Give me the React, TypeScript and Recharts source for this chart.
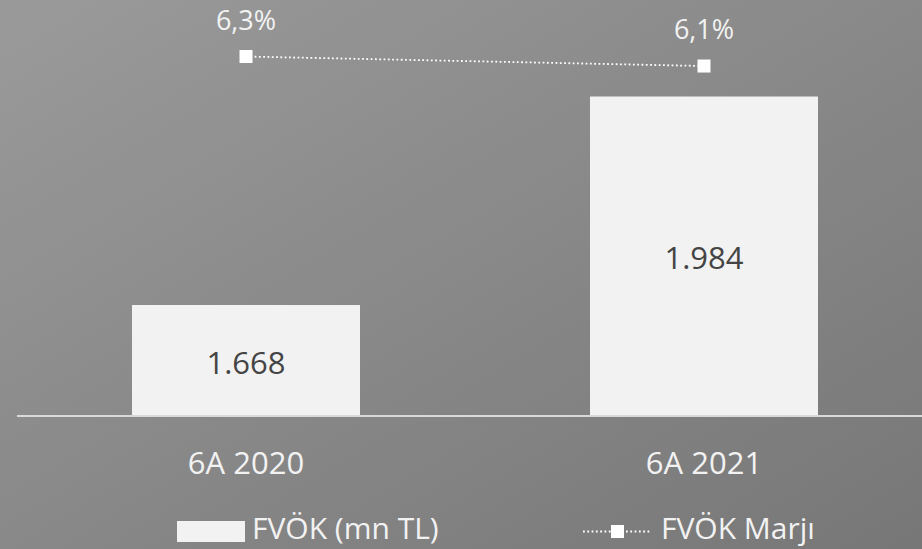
import React from 'react';
import { ComposedChart, Bar, Line, XAxis, YAxis, LabelList, Legend } from 'recharts';

const categories = ['6A 2020', '6A 2021'];
const fvokValues = [1668, 1984];
const marginValues = [6.3, 6.1];
const seriesNames = ['FVÖK (mn TL)', 'FVÖK Marjı'];

const data = categories.map((name, i) => ({ name, fvok: fvokValues[i], marj: marginValues[i] }));

const FONT = "'Open Sans', sans-serif";

const fmtThousands = (v: number) => String(v).replace(/\B(?=(\d{3})+(?!\d))/g, '.');
const fmtPct = (v: number) => v.toFixed(1).replace('.', ',') + '%';

const BarValueLabel = (props: any) => {
  const { x, y, width, height, value } = props;
  return (
    <text
      x={Number(x) + Number(width) / 2}
      y={Number(y) + Number(height) / 2 + 13}
      textAnchor="middle"
      fill="#444444"
      fontSize={31}
      fontFamily={FONT}
    >
      {fmtThousands(Number(value))}
    </text>
  );
};

const LineValueLabel = (props: any) => {
  const { x, y, value } = props;
  return (
    <text x={Number(x)} y={Number(y) - 27} textAnchor="middle" fill="#f2f2f2" fontSize={27} fontFamily={FONT}>
      {fmtPct(Number(value))}
    </text>
  );
};

const SquareDot = (props: any) => {
  const { cx, cy, index } = props;
  return <rect key={`dot-${index}`} x={cx - 6.5} y={cy - 6.5} width={13} height={13} fill="#ffffff" />;
};

const XTick = (props: any) => {
  const { x, y, payload } = props;
  return (
    <text x={x} y={Number(y) + 58} textAnchor="middle" fill="#f2f2f2" fontSize={31} fontFamily={FONT}>
      {payload.value}
    </text>
  );
};

const LegendContent = () => (
  <svg width={922} height={41} style={{ display: 'block' }}>
    <rect x={177} y={13} width={68} height={21} fill="#f2f2f2" />
    <text x={252} y={31} fill="#f2f2f2" fontSize={30} fontFamily={FONT}>
      {seriesNames[0]}
    </text>
    <line x1={583} y1={23.5} x2={651} y2={23.5} stroke="#ffffff" strokeWidth={1.8} strokeDasharray="1.8 2.5" />
    <rect x={611} y={17} width={13} height={13} fill="#ffffff" />
    <text x={661} y={31} fill="#f2f2f2" fontSize={30} fontFamily={FONT}>
      {seriesNames[1]}
    </text>
  </svg>
);

export default function App() {
  return (
    <div
      style={{
        position: 'absolute',
        left: 0,
        top: 0,
        width: 922,
        height: 549,
        overflow: 'hidden',
        background: 'linear-gradient(to bottom right, #9a9a9a, #777777)',
      }}
    >
      <ComposedChart width={933} height={549} data={data} margin={{ top: 20, right: 0, left: 17, bottom: 22 }}>
        <XAxis
          dataKey="name"
          xAxisId="x"
          axisLine={{ stroke: '#d9d9d9', strokeWidth: 2 }}
          tickLine={false}
          tickSize={0}
          tickMargin={0}
          height={70}
          tick={<XTick />}
          interval={0}
        />
        <YAxis yAxisId="left" domain={[1500, 2100]} hide allowDataOverflow />
        <YAxis yAxisId="right" domain={[-1.268, 7.069]} hide allowDataOverflow />
        <Legend
          verticalAlign="bottom"
          content={<LegendContent />}
          wrapperStyle={{ position: 'absolute', top: 508, left: 0, width: 922, height: 41 }}
        />
        <Bar dataKey="fvok" xAxisId="x" yAxisId="left" fill="#f2f2f2" barSize={228} isAnimationActive={false}>
          <LabelList dataKey="fvok" content={<BarValueLabel />} />
        </Bar>
        <Line
          dataKey="marj"
          xAxisId="x"
          yAxisId="right"
          type="linear"
          stroke="#ffffff"
          strokeWidth={1.8}
          strokeDasharray="1.8 2.5"
          dot={SquareDot}
          activeDot={false}
          isAnimationActive={false}
        >
          <LabelList dataKey="marj" content={<LineValueLabel />} />
        </Line>
      </ComposedChart>
    </div>
  );
}
